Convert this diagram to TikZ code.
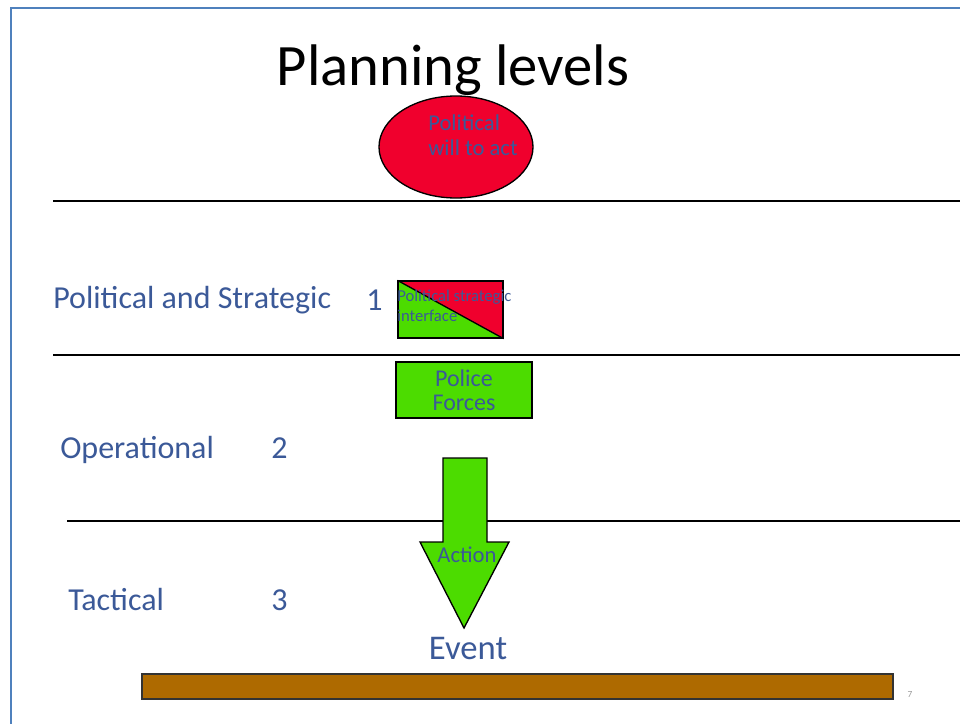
\documentclass[tikz,border=0pt]{standalone}
\usepackage{fontspec}
\setmainfont{Carlito}
\usetikzlibrary{shapes.geometric,positioning,backgrounds}

\definecolor{lvlblue}{RGB}{59,89,152}
\definecolor{willred}{RGB}{240,0,45}
\definecolor{actgreen}{RGB}{76,220,0}
\definecolor{groundbrown}{RGB}{174,106,0}
\definecolor{frameblue}{RGB}{79,129,189}

\begin{document}
\begin{tikzpicture}[x=0.75pt, y=-0.75pt,
    lvl/.style={anchor=base west, inner sep=0pt, text=lvlblue, font=\fontsize{24}{28}\selectfont},
    inbox/.style={text=lvlblue, inner sep=0pt, align=left},
    gbox/.style={draw, line width=1pt, fill=actgreen, minimum width=102pt, minimum height=42pt, align=center},
    sep/.style={line width=1.1pt}
]
\useasboundingbox (0,0) rectangle (960,724);
\draw[frameblue, line width=1.5pt] (11,730) -- (11,8) -- (970,8);

\node[anchor=base, inner sep=0pt, font=\fontsize{44}{50}\selectfont] (title) at (453,85) {Planning levels};

\node[draw, ellipse, fill=willred, line width=1pt, minimum width=115.5pt, minimum height=76.5pt] (will) at (456,147) {};
\node[inbox, anchor=west, font=\fontsize{17}{19}\selectfont] (willtxt) at (428,135) {Political\\will to act};

% level separators
\draw[sep] (53,201) -- (960,201);
\draw[sep] (53,355) -- (960,355);
\draw[sep] (67,521) -- (960,521);

\node[lvl] (polstr) at (53,308) {Political and Strategic};
\node[lvl] (one) at (366,310) {1};
\node[lvl] (oper) at (60,458) {Operational};
\node[lvl] (two) at (271,458) {2};
\node[lvl] (tact) at (68,610) {Tactical};
\node[lvl] (three) at (271,610) {3};

% split interface box
\node[draw, line width=1pt, minimum width=78.75pt, minimum height=42.75pt] (psi) at (450.5,309.5) {};
\begin{scope}[on background layer]
\fill[actgreen] (psi.north west) -- (psi.south east) -- (psi.south west) -- cycle;
\fill[willred] (psi.north west) -- (psi.north east) -- (psi.south east) -- cycle;
\end{scope}
\draw[line width=1pt] (psi.north west) -- (psi.south east);
\node[inbox, anchor=west, font=\fontsize{12.5}{15}\selectfont] (psitxt) at (397,306) {Political strategic\\interface};

\node[gbox, font=\fontsize{18}{18}\selectfont, text=lvlblue] (police) at (464,390) {Police\\Forces};

% action arrow
\draw[line width=1pt, fill=actgreen] (443,458) -- (487,458) -- (487,542) -- (509,542)
    -- (464,628) -- (420,542) -- (443,542) -- cycle;
\node[text=lvlblue, inner sep=0pt, font=\fontsize{17}{20}\selectfont] (action) at (467,555) {Action};

\node[anchor=base, inner sep=0pt, text=lvlblue, font=\fontsize{26}{30}\selectfont] (event) at (468,659) {Event};

\node[draw=black!80, line width=1.2pt, fill=groundbrown, minimum width=563.25pt, minimum height=18.75pt] (ground) at (517.5,686.5) {};
\node[text=black!40, inner sep=0pt, font=\fontsize{7}{8}\selectfont] (pagenum) at (910,694) {7};
\end{tikzpicture}
\end{document}
